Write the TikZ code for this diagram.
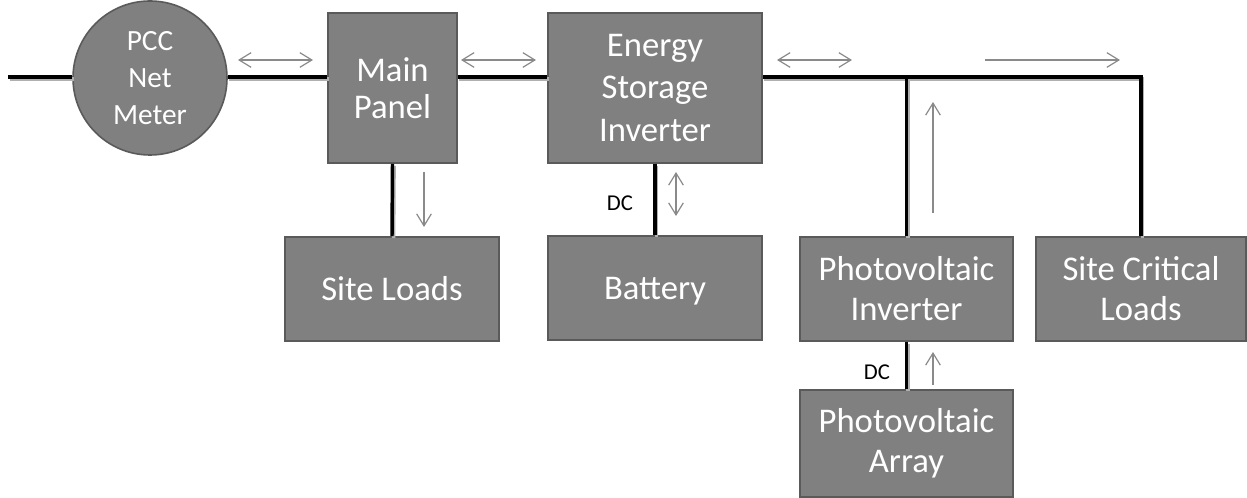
\documentclass[tikz,border=0pt]{standalone}
\usepackage{fontspec}
\setmainfont{Carlito}
\usetikzlibrary{arrows.meta,calc}
\definecolor{boxfill}{HTML}{808080}
\definecolor{boxedge}{HTML}{5A5A5A}
\definecolor{arrgray}{HTML}{8A8A8A}
\definecolor{shadowgray}{HTML}{B0B0B0}
\begin{document}
\begin{tikzpicture}[x=0.75pt,y=-0.75pt,
  blk/.style={draw=boxedge, line width=1.2pt, fill=boxfill, text=white, align=center,
    inner sep=0pt, font=\fontsize{26}{28}\selectfont},
  one/.style={text height=16.8pt, text depth=0pt},
  wire/.style={line width=2.6pt, black,
    preaction={draw=shadowgray, line width=2.6pt, transform canvas={shift={(1.2pt,-1.5pt)}}}},
  flow/.style={draw=arrgray, line width=0.9pt, -{Straight Barb[length=9pt,width=11pt,line width=0.9pt]}},
  flow2/.style={draw=arrgray, line width=0.9pt, {Straight Barb[length=9pt,width=11pt,line width=0.9pt]}-{Straight Barb[length=9pt,width=11pt,line width=0.9pt]}},
  dclab/.style={font=\fontsize{17}{19}\selectfont, text=black, inner sep=0pt}
]
\useasboundingbox (0,0) rectangle (1247,498);

% nodes
\node[blk, circle, minimum size=115.5pt, font=\fontsize{22}{28}\selectfont] (pcc) at (150,78) {PCC\\Net\\Meter};
\node[blk, minimum width=96.75pt, minimum height=112.5pt] (mp) at (392.5,88) {Main\\Panel};
\node[blk, minimum width=160.5pt, minimum height=112.5pt, font=\fontsize{26}{32}\selectfont] (esi) at (655,88) {Energy\\Storage\\Inverter};
\node[blk, one, minimum width=160.5pt, minimum height=78pt] (sl) at (392,289) {Site Loads};
\node[blk, one, minimum width=160.5pt, minimum height=78pt] (bat) at (655,288) {Battery};
\node[blk, minimum width=159.75pt, minimum height=78pt, font=\fontsize{26}{30}\selectfont] (pvi) at (906.5,289) {Photovoltaic\\Inverter};
\node[blk, minimum width=157.5pt, minimum height=78pt, font=\fontsize{26}{30}\selectfont] (scl) at (1141,289) {Site Critical\\Loads};
\node[blk, minimum width=159.75pt, minimum height=80.25pt, font=\fontsize{26}{30}\selectfont] (pva) at (906.5,443.5) {Photovoltaic\\Array};

\node[dclab] (dc1) at (620,203) {DC};
\node[dclab] (dc2) at (877,372) {DC};

% wire coordinates
\coordinate (lin) at (8,77);
\coordinate (jpv) at (906.5,77);
\coordinate (jr) at (1141,77);

% wires
\draw[wire] (lin) -- (lin -| pcc.west);
\draw[wire] (lin -| pcc.east) -- (lin -| mp.west);
\draw[wire] (mp.east |- lin) -- (esi.west |- lin);
\draw[wire, line join=miter] (esi.east |- lin) -- (jr) -- (scl.north);
\draw[wire] (jpv) -- (pvi.north);
\draw[wire] (mp.south) -- (sl.north);
\draw[wire] (esi.south) -- (bat.north);
\draw[wire] (pvi.south) -- (pva.north);

% flow arrow coordinates
\coordinate (a1s) at (238,60); \coordinate (a1e) at (313,60);
\coordinate (a2s) at (461,60); \coordinate (a2e) at (536,60);
\coordinate (a3s) at (777,60); \coordinate (a3e) at (852,60);
\coordinate (a4s) at (985,60); \coordinate (a4e) at (1120,60);
\coordinate (a5s) at (933,213); \coordinate (a5e) at (933,102);
\coordinate (a6s) at (424,172); \coordinate (a6e) at (424,227);
\coordinate (a7s) at (676,172); \coordinate (a7e) at (676,216);
\coordinate (a8s) at (933,385); \coordinate (a8e) at (933,352);

\draw[flow2] (a1s) -- (a1e);
\draw[flow2] (a2s) -- (a2e);
\draw[flow2] (a3s) -- (a3e);
\draw[flow] (a4s) -- (a4e);
\draw[flow] (a5s) -- (a5e);
\draw[flow] (a6s) -- (a6e);
\draw[flow2] (a7s) -- (a7e);
\draw[flow] (a8s) -- (a8e);
\end{tikzpicture}
\end{document}
